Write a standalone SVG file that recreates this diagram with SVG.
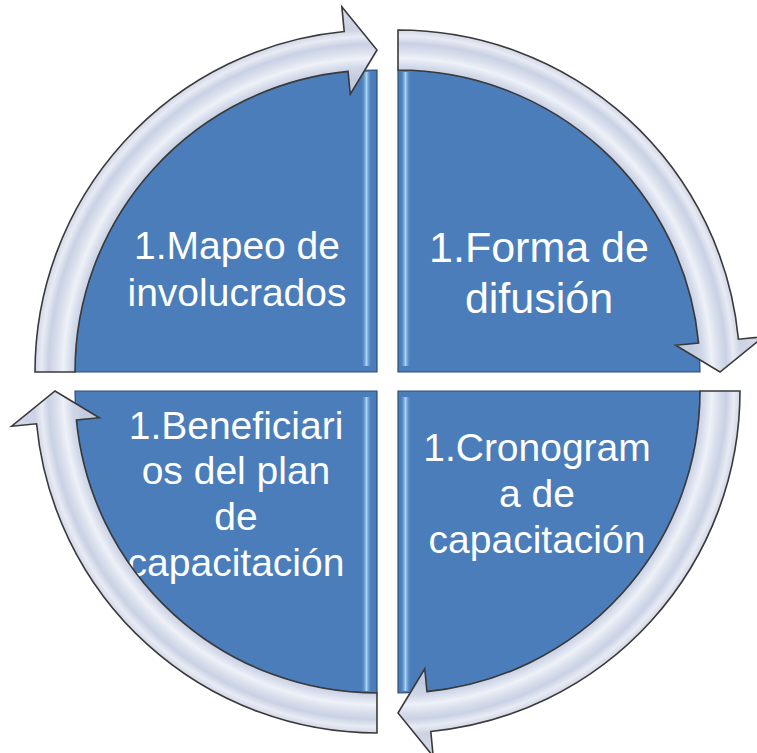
<svg xmlns="http://www.w3.org/2000/svg" width="757" height="753" viewBox="0 0 757 753">
<style>
.q{fill:#4a7dba;stroke:#2d4d77;stroke-width:1.2}
.t{font-family:"Liberation Sans",Arial,sans-serif;fill:#ffffff;text-anchor:middle}
.arr{fill:url(#ring);stroke:#3a3a3a;stroke-width:1.6;stroke-linejoin:miter}
</style>
<defs>
<radialGradient id="ring" gradientUnits="userSpaceOnUse" cx="0" cy="0" r="367">
<stop offset="0.80" stop-color="#c3cbdf"/>
<stop offset="0.83" stop-color="#cfd6e7"/>
<stop offset="0.855" stop-color="#eef1f8"/>
<stop offset="0.875" stop-color="#d9dfec"/>
<stop offset="0.895" stop-color="#c9d1e4"/>
<stop offset="0.915" stop-color="#e8ebf4"/>
<stop offset="0.935" stop-color="#cdd3e4"/>
<stop offset="1" stop-color="#d6dbea"/>
</radialGradient>
<linearGradient id="bevH" x1="0" y1="0" x2="1" y2="0">
<stop offset="0" stop-color="#4a7dba" stop-opacity="0"/>
<stop offset="0.5" stop-color="#a9d6f8"/>
<stop offset="1" stop-color="#4a7dba" stop-opacity="0"/>
</linearGradient>
<path id="arrow" class="arr" d="M-342,0 A342,342 0 0 1 -32.78,-340.43 L-35.18,-365.31 L0,-322 L-26.74,-277.72 L-28.95,-300.61 A302,302 0 0 0 -302,0 Z"/>
</defs>
<rect width="757" height="753" fill="#ffffff"/>
<g id="node-tl">
<path class="q" d="M377,372 L75,372 A302,302 0 0 1 377,70 Z"/>
<rect x="361" y="72" width="11" height="294" fill="url(#bevH)"/>
<text class="t" font-size="39" x="237" y="259">1.Mapeo de</text>
<text class="t" font-size="39" x="237" y="306">involucrados</text>
</g>
<g id="node-tr">
<path class="q" d="M398,372 L398,70 A302,302 0 0 1 700,372 Z"/>
<rect x="400" y="72" width="11" height="294" fill="url(#bevH)"/>
<text class="t" font-size="43" x="539" y="262">1.Forma de</text>
<text class="t" font-size="43" x="539" y="313">difusión</text>
</g>
<g id="node-br">
<path class="q" d="M398,391 L700,391 A302,302 0 0 1 398,693 Z"/>
<rect x="400" y="397" width="11" height="294" fill="url(#bevH)"/>
<text class="t" font-size="39" x="537" y="461">1.Cronogram</text>
<text class="t" font-size="39" x="537" y="507">a de</text>
<text class="t" font-size="39" x="537" y="553">capacitación</text>
</g>
<g id="node-bl">
<path class="q" d="M377,391 L377,693 A302,302 0 0 1 75,391 Z"/>
<rect x="361" y="397" width="11" height="294" fill="url(#bevH)"/>
<text class="t" font-size="39" x="236" y="439">1.Beneficiari</text>
<text class="t" font-size="39" x="236" y="484">os del plan</text>
<text class="t" font-size="39" x="236" y="530">de</text>
<text class="t" font-size="39" x="236" y="576">capacitación</text>
</g>
<g id="connectors">
<use href="#arrow" transform="translate(377,372)"/>
<use href="#arrow" transform="translate(398,372) rotate(90)"/>
<use href="#arrow" transform="translate(398,391) rotate(180)"/>
<use href="#arrow" transform="translate(377,391) rotate(270)"/>
</g>
</svg>
